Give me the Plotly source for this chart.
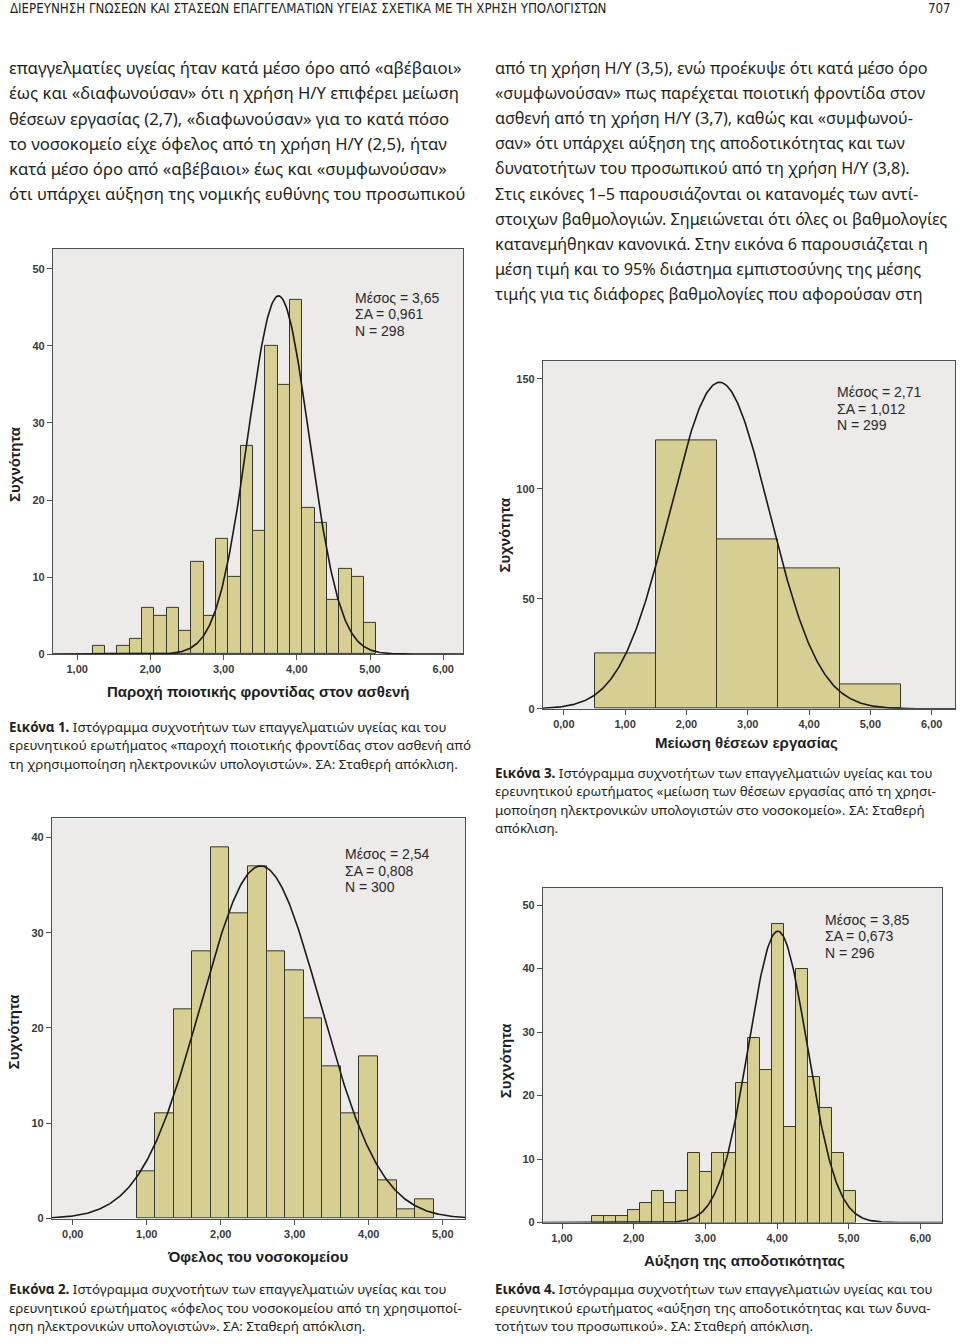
import numpy as np
import plotly.graph_objects as go

W, H = 960, 1344

# ---------------- data ----------------
# Figure 1: provision of quality care
c1_bin_start = 1.213
c1_bin_width = 0.1683
c1_counts = [1, 0, 1, 2, 6, 5, 6, 3, 12, 5, 15, 10, 27, 16, 40, 35, 46, 19, 17, 7, 11, 10, 4]
c1_curve_mu, c1_curve_sd, c1_curve_peak = 3.75, 0.42, 46.5
c1_stats = ["Μέσος = 3,65", "ΣΑ = 0,961", "N = 298"]
c1_xticks = [1, 2, 3, 4, 5, 6]
c1_xticklabels = ["1,00", "2,00", "3,00", "4,00", "5,00", "6,00"]
c1_yticks = [0, 10, 20, 30, 40, 50]
c1_xtitle = "Παροχή ποιοτικής φροντίδας στον ασθενή"

# Figure 3: reduction of jobs
c2_bin_start = 0.5
c2_bin_width = 1.0
c2_counts = [25, 122, 77, 64, 11]
c2_curve_mu, c2_curve_sd, c2_curve_peak = 2.54, 0.81, 148.5
c2_stats = ["Μέσος = 2,71", "ΣΑ = 1,012", "N = 299"]
c2_xticks = [0, 1, 2, 3, 4, 5, 6]
c2_xticklabels = ["0,00", "1,00", "2,00", "3,00", "4,00", "5,00", "6,00"]
c2_yticks = [0, 50, 100, 150]
c2_xtitle = "Μείωση θέσεων εργασίας"

# Figure 2: hospital benefit
c3_bin_start = 0.864
c3_bin_width = 0.2508
c3_counts = [5, 11, 22, 28, 39, 32, 37, 28, 26, 21, 16, 11, 17, 4, 1, 2]
c3_curve_mu, c3_curve_sd, c3_curve_peak = 2.54, 0.81, 37.0
c3_stats = ["Μέσος = 2,54", "ΣΑ = 0,808", "N = 300"]
c3_xticks = [0, 1, 2, 3, 4, 5]
c3_xticklabels = ["0,00", "1,00", "2,00", "3,00", "4,00", "5,00"]
c3_yticks = [0, 10, 20, 30, 40]
c3_xtitle = "Όφελος του νοσοκομείου"

# Figure 4: efficiency increase
c4_bin_start = 1.419
c4_bin_width = 0.1674
c4_counts = [1, 1, 1, 2, 3, 5, 3, 5, 11, 8, 11, 11, 22, 29, 24, 47, 15, 40, 23, 18, 11, 5]
c4_curve_mu, c4_curve_sd, c4_curve_peak = 4.01, 0.41, 45.9
c4_stats = ["Μέσος = 3,85", "ΣΑ = 0,673", "N = 296"]
c4_xticks = [1, 2, 3, 4, 5, 6]
c4_xticklabels = ["1,00", "2,00", "3,00", "4,00", "5,00", "6,00"]
c4_yticks = [0, 10, 20, 30, 40, 50]
c4_xtitle = "Αύξηση της αποδοτικότητας"

ytitle = "Συχνότητα"

header_text = "ΔΙΕΡΕΥΝΗΣΗ ΓΝΩΣΕΩΝ ΚΑΙ ΣΤΑΣΕΩΝ ΕΠΑΓΓΕΛΜΑΤΙΩΝ ΥΓΕΙΑΣ ΣΧΕΤΙΚΑ ΜΕ ΤΗ ΧΡΗΣΗ ΥΠΟΛΟΓΙΣΤΩΝ"
page_number = "707"

left_body = [
    "επαγγελματίες υγείας ήταν κατά μέσο όρο από «αβέβαιοι»",
    "έως και «διαφωνούσαν» ότι η χρήση Η/Υ επιφέρει μείωση",
    "θέσεων εργασίας (2,7), «διαφωνούσαν» για το κατά πόσο",
    "το νοσοκομείο είχε όφελος από τη χρήση Η/Υ (2,5), ήταν",
    "κατά μέσο όρο από «αβέβαιοι» έως και «συμφωνούσαν»",
    "ότι υπάρχει αύξηση της νομικής ευθύνης του προσωπικού",
]
right_body = [
    "από τη χρήση Η/Υ (3,5), ενώ προέκυψε ότι κατά μέσο όρο",
    "«συμφωνούσαν» πως παρέχεται ποιοτική φροντίδα στον",
    "ασθενή από τη χρήση Η/Υ (3,7), καθώς και «συμφωνού-",
    "σαν» ότι υπάρχει αύξηση της αποδοτικότητας και των",
    "δυνατοτήτων του προσωπικού από τη χρήση Η/Υ (3,8).",
    "Στις εικόνες 1–5 παρουσιάζονται οι κατανομές των αντί-",
    "στοιχων βαθμολογιών. Σημειώνεται ότι όλες οι βαθμολογίες",
    "κατανεμήθηκαν κανονικά. Στην εικόνα 6 παρουσιάζεται η",
    "μέση τιμή και το 95% διάστημα εμπιστοσύνης της μέσης",
    "τιμής για τις διάφορες βαθμολογίες που αφορούσαν στη",
]
cap1 = [
    "<b>Εικόνα 1.</b> Ιστόγραμμα συχνοτήτων των επαγγελματιών υγείας και του",
    "ερευνητικού ερωτήματος «παροχή ποιοτικής φροντίδας στον ασθενή από",
    "τη χρησιμοποίηση ηλεκτρονικών υπολογιστών». ΣΑ: Σταθερή απόκλιση.",
]
cap3 = [
    "<b>Εικόνα 3.</b> Ιστόγραμμα συχνοτήτων των επαγγελματιών υγείας και του",
    "ερευνητικού ερωτήματος «μείωση των θέσεων εργασίας από τη χρησι-",
    "μοποίηση ηλεκτρονικών υπολογιστών στο νοσοκομείο». ΣΑ: Σταθερή",
    "απόκλιση.",
]
cap2 = [
    "<b>Εικόνα 2.</b> Ιστόγραμμα συχνοτήτων των επαγγελματιών υγείας και του",
    "ερευνητικού ερωτήματος «όφελος του νοσοκομείου από τη χρησιμοποί-",
    "ηση ηλεκτρονικών υπολογιστών». ΣΑ: Σταθερή απόκλιση.",
]
cap4 = [
    "<b>Εικόνα 4.</b> Ιστόγραμμα συχνοτήτων των επαγγελματιών υγείας και του",
    "ερευνητικού ερωτήματος «αύξηση της αποδοτικότητας και των δυνα-",
    "τοτήτων του προσωπικού». ΣΑ: Σταθερή απόκλιση.",
]

# ---------------- styling ----------------
BAR_FILL = "#D7CE93"
BAR_LINE = "#34392F"
PLOT_BG = "#ECEBEA"
AXIS_COL = "#4A4F55"
TICK_FONT = dict(family="Liberation Sans, Arial, sans-serif", size=11, color="#3A3A3A",
                 weight="bold")
BODY_FONT = "Noto Sans, Open Sans, sans-serif"
SANS = "Liberation Sans, Arial, sans-serif"

# pixel boxes of the four plot areas: left, right, top, bottom
charts = [
    dict(box=(53, 463, 250, 657), xr=(0.67, 6.27), yr=(0, 52.6),
         start=c1_bin_start, width=c1_bin_width, counts=c1_counts,
         mu=c1_curve_mu, sd=c1_curve_sd, peak=c1_curve_peak, stats=c1_stats,
         stats_xy=(353, 299), xt=c1_xticks, xtl=c1_xticklabels, yt=c1_yticks,
         xtitle=c1_xtitle, xtitle_xy=(258, 695), ytitle_xy=(15, 466)),
    dict(box=(543, 955, 363, 712), xr=(-0.34, 6.38), yr=(0, 158),
         start=c2_bin_start, width=c2_bin_width, counts=c2_counts,
         mu=c2_curve_mu, sd=c2_curve_sd, peak=c2_curve_peak, stats=c2_stats,
         stats_xy=(835, 394), xt=c2_xticks, xtl=c2_xticklabels, yt=c2_yticks,
         xtitle=c2_xtitle, xtitle_xy=(746, 746), ytitle_xy=(505, 537)),
    dict(box=(52, 465, 822, 1224), xr=(-0.28, 5.3), yr=(0, 42),
         start=c3_bin_start, width=c3_bin_width, counts=c3_counts,
         mu=c3_curve_mu, sd=c3_curve_sd, peak=c3_curve_peak, stats=c3_stats,
         stats_xy=(343, 858), xt=c3_xticks, xtl=c3_xticklabels, yt=c3_yticks,
         xtitle=c3_xtitle, xtitle_xy=(257, 1262), ytitle_xy=(13, 1036)),
    dict(box=(543, 942, 892, 1228), xr=(0.735, 6.30), yr=(0, 52.7),
         start=c4_bin_start, width=c4_bin_width, counts=c4_counts,
         mu=c4_curve_mu, sd=c4_curve_sd, peak=c4_curve_peak, stats=c4_stats,
         stats_xy=(823, 924), xt=c4_xticks, xtl=c4_xticklabels, yt=c4_yticks,
         xtitle=c4_xtitle, xtitle_xy=(744, 1266), ytitle_xy=(505, 1065)),
]

fig = go.Figure()
annotations = []


def px_x(x):
    return x / W


def px_y(y):
    return 1 - y / H


def add_text(x, y, text, size, family=BODY_FONT, color="#231F20", xanchor="left",
             textangle=0, yanchor="middle"):
    annotations.append(dict(
        x=px_x(x), y=px_y(y), xref="paper", yref="paper", text=text, showarrow=False,
        xanchor=xanchor, yanchor=yanchor, textangle=textangle,
        font=dict(family=family, size=size, color=color)))


layout_axes = {}
for i, c in enumerate(charts, start=1):
    l, r, t, b = c["box"]
    xa = "x" if i == 1 else f"x{i}"
    ya = "y" if i == 1 else f"y{i}"
    xkey = "xaxis" if i == 1 else f"xaxis{i}"
    ykey = "yaxis" if i == 1 else f"yaxis{i}"

    n = len(c["counts"])
    centers = [c["start"] + c["width"] * (k + 0.5) for k in range(n)]
    fig.add_trace(go.Bar(
        x=centers, y=c["counts"], width=[c["width"]] * n,
        marker=dict(color=BAR_FILL, line=dict(color=BAR_LINE, width=1)),
        xaxis=xa, yaxis=ya, showlegend=False, hoverinfo="x+y"))

    xs = np.linspace(c["xr"][0], c["xr"][1], 400)
    ys = c["peak"] * np.exp(-0.5 * ((xs - c["mu"]) / c["sd"]) ** 2)
    fig.add_trace(go.Scatter(
        x=xs, y=ys, mode="lines", line=dict(color="#1A1A1A", width=1.6),
        xaxis=xa, yaxis=ya, showlegend=False, hoverinfo="skip"))

    layout_axes[xkey] = dict(
        domain=[px_x(l), px_x(r)], range=list(c["xr"]), anchor=ya,
        tickvals=c["xt"], ticktext=c["xtl"], ticks="outside", ticklen=5,
        tickcolor=AXIS_COL, tickfont=TICK_FONT, showgrid=False, zeroline=False,
        showline=True, linecolor=AXIS_COL, linewidth=1.2, mirror=True, fixedrange=True)
    layout_axes[ykey] = dict(
        domain=[px_y(b), px_y(t)], range=list(c["yr"]), anchor=xa,
        tickvals=c["yt"], ticks="outside", ticklen=5, tickcolor=AXIS_COL,
        tickfont=TICK_FONT, showgrid=False, zeroline=False,
        showline=True, linecolor=AXIS_COL, linewidth=1.2, mirror=True, fixedrange=True)

    sx, sy = c["stats_xy"]
    for j, s in enumerate(c["stats"]):
        add_text(sx, sy + j * 16.5, s, 14, family=SANS, color="#2A2A2A")

    tx, ty = c["xtitle_xy"]
    add_text(tx, ty, "<b>" + c["xtitle"] + "</b>", 15, family=SANS, color="#1E1E1E",
             xanchor="center")
    yx, yy = c["ytitle_xy"]
    add_text(yx, yy, "<b>" + ytitle + "</b>", 15, family=SANS, color="#1E1E1E",
             xanchor="center", textangle=-90)

# header
HEAD_FONT = "Liberation Sans Narrow, DejaVu Sans Condensed, sans-serif"
add_text(8, 9, header_text, 13.2, family=HEAD_FONT, color="#231F20")
add_text(953, 9, page_number, 13.2, family=HEAD_FONT, color="#231F20", xanchor="right")

# body text
for k, line in enumerate(left_body):
    add_text(7, 68 + 25.3 * k, line, 16.7)
for k, line in enumerate(right_body):
    add_text(493, 68 + 25.3 * k, line, 16.2)

# captions
for k, line in enumerate(cap1):
    add_text(7, 730 + 18.7 * k, line, 13.4)
for k, line in enumerate(cap3):
    add_text(493, 776 + 18.7 * k, line, 13.4)
for k, line in enumerate(cap2):
    add_text(7, 1295 + 18.7 * k, line, 13.4)
for k, line in enumerate(cap4):
    add_text(493, 1295 + 18.7 * k, line, 13.4)

fig.update_layout(
    width=W, height=H, margin=dict(l=0, r=0, t=0, b=0),
    paper_bgcolor="white", plot_bgcolor=PLOT_BG, bargap=0,
    annotations=annotations, showlegend=False, **layout_axes)

fig.write_html("out.html", config={"displayModeBar": False},
               post_script="document.body.style.margin='0';document.body.style.overflow='hidden';")
